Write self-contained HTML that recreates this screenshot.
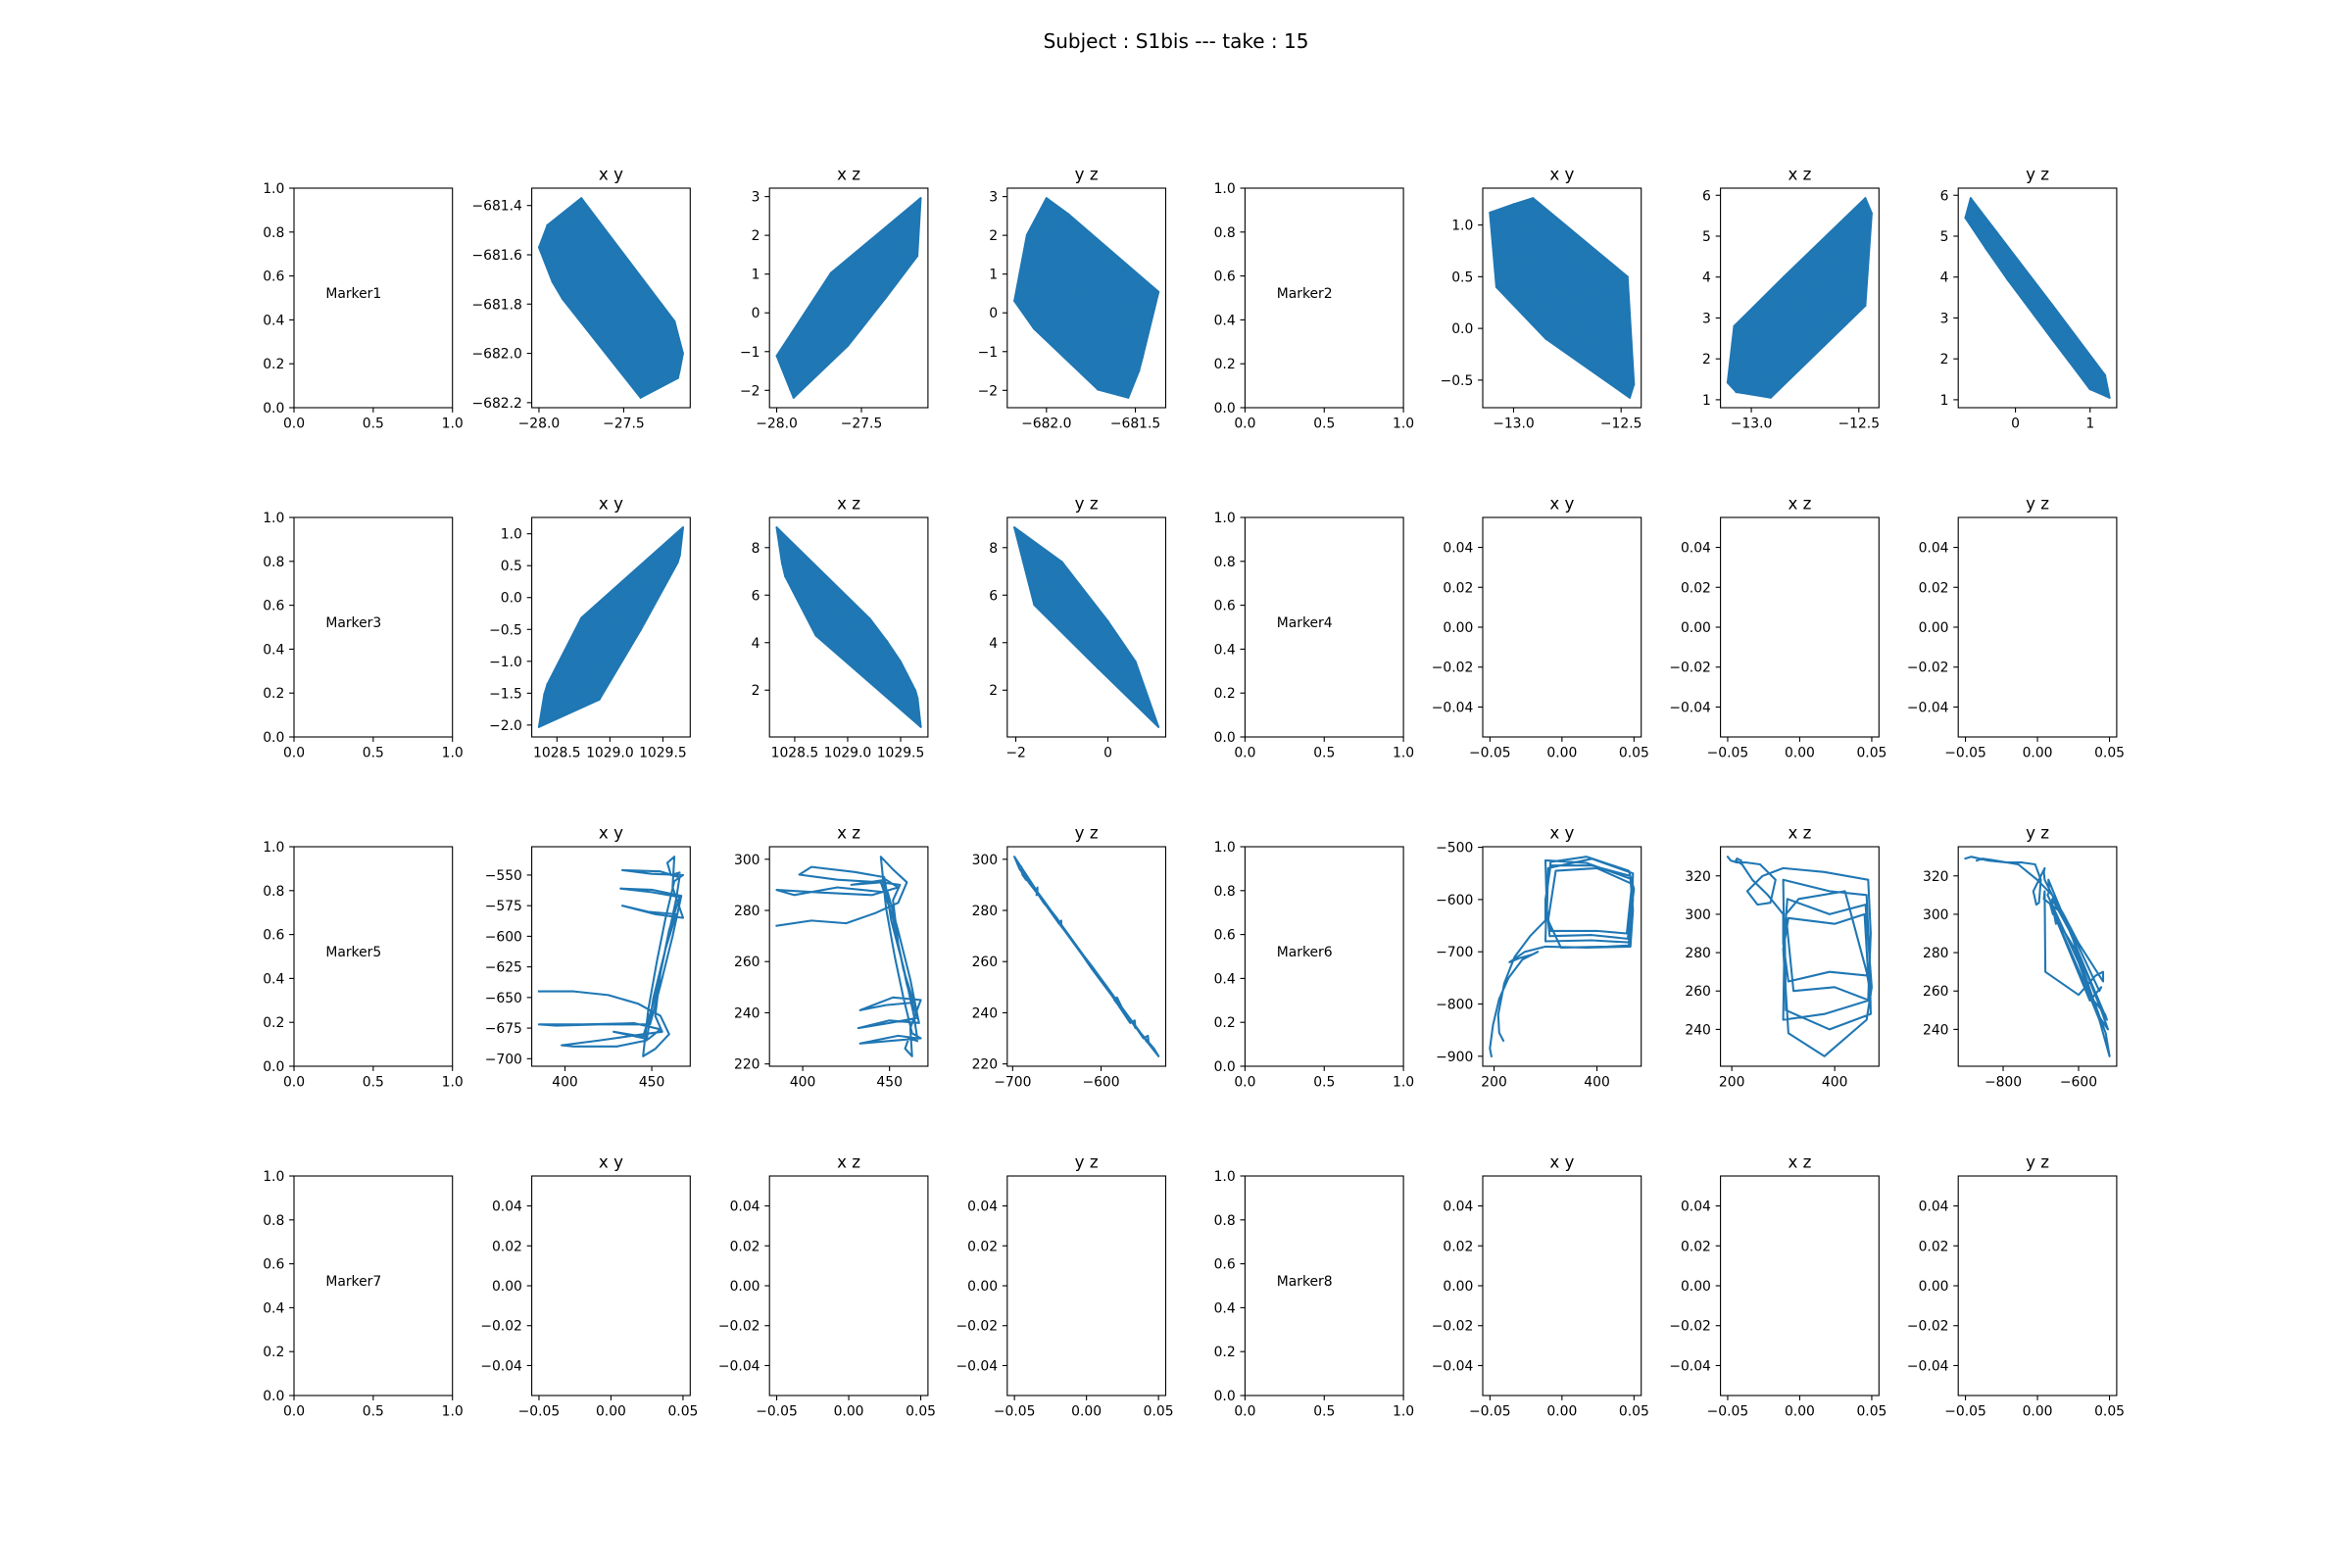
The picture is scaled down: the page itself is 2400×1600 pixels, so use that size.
<!DOCTYPE html>
<html><head><meta charset="utf-8"><title>Subject S1bis take 15</title>
<style>html,body{margin:0;padding:0;background:#fff}svg{display:block}text{font-family:"DejaVu Sans","Liberation Sans",sans-serif;fill:#000}</style>
</head><body>
<svg id="fig" xmlns="http://www.w3.org/2000/svg" width="2400" height="1600" viewBox="0 0 2400 1600">
<rect x="0" y="0" width="2400" height="1600" fill="#fff"/>
<text x="1200" y="49" text-anchor="middle" font-size="20">Subject : S1bis --- take : 15</text>
</svg>
<script>
// ---------- data ----------
const m1x = [-27.95,-27.30,-27.85,-27.20,-27.90,-27.40,-27.75,-27.15,-28.00,-27.35,-27.70,-27.25,-27.88,-27.45,-27.80,-27.18,-27.92,-27.38,-27.68,-27.28,-27.82,-27.50,-27.72,-27.22,-27.97,-27.33,-27.62,-27.26,-27.86,-27.42,-27.78,-27.17,-27.93,-27.36,-27.66,-27.30,-27.84,-27.48,-27.58,-27.24];
const m1y = [-681.48,-682.07,-681.73,-681.87,-681.54,-682.18,-681.37,-682.00,-681.57,-682.11,-681.46,-682.06,-681.48,-682.07,-681.48,-682.10,-681.71,-681.77,-681.53,-682.11,-681.57,-682.07,-681.84,-681.88,-681.52,-682.10,-681.54,-682.01,-681.78,-681.72,-681.43,-682.07,-681.59,-682.16,-681.56,-681.87,-681.70,-682.04,-681.58,-682.00];
const m1z = [-1.50,1.93,-0.18,1.45,-2.19,0.31,0.54,2.96,-1.11,1.92,-1.15,1.04,-0.81,1.80,-1.47,1.63,-1.98,0.89,1.03,2.01,-1.16,-0.41,0.36,2.56,-1.09,0.80,-0.82,1.99,-1.63,1.62,0.21,1.47,-1.72,0.37,0.51,2.23,-0.64,0.37,-0.85,2.18];

const m2x = [-13.07,-12.56,-12.99,-12.48,-13.03,-12.64,-12.91,-12.44,-13.11,-12.60,-12.87,-12.52,-13.01,-12.68,-12.95,-12.47,-13.05,-12.62,-12.86,-12.55,-12.97,-12.72,-12.89,-12.50,-13.08,-12.58,-12.81,-12.53,-13.00,-12.66,-12.94,-12.46,-13.05,-12.61,-12.84,-12.56,-12.98,-12.70,-12.78,-12.51,-13.08,-12.47,-12.85,-12.75,-13.00];
const m2y = [1.14,-0.40,0.74,-0.34,1.00,-0.36,1.26,-0.54,1.12,-0.36,0.79,-0.46,1.04,-0.18,0.92,-0.60,0.86,0.02,0.70,-0.46,0.86,-0.11,0.44,-0.32,1.13,-0.38,0.60,-0.39,0.71,0.13,0.94,-0.67,1.00,-0.40,0.64,-0.20,0.76,-0.10,0.50,-0.41,0.40,0.50,-0.10,0.75,1.20];
const m2z = [1.19,5.10,2.42,4.69,1.26,4.64,1.05,5.56,1.42,5.06,1.82,4.91,1.55,4.72,1.54,5.93,1.69,3.88,2.67,5.24,1.81,3.95,3.14,5.00,1.37,4.75,2.28,5.05,2.08,3.89,1.97,5.45,1.44,4.71,2.63,4.71,2.23,4.14,2.46,5.12,2.80,3.30,4.00,2.60,1.60];

const m3x = [1028.41,1029.45,1028.57,1029.61,1028.49,1029.29,1028.73,1029.69,1028.33,1029.37,1028.81,1029.53,1028.52,1029.21,1028.65,1029.64,1028.46,1029.32,1028.84,1029.48,1028.62,1029.13,1028.78,1029.58,1028.38,1029.40,1028.94,1029.51,1028.55,1029.26,1028.68,1029.66,1028.44,1029.35,1028.87,1029.45,1028.58,1029.16,1029.00,1029.54,1028.60,1029.30,1028.90,1029.50,1028.70,1029.10];
const m3y = [-1.36,0.11,-1.46,0.93,-1.29,-0.51,-0.32,1.10,-2.03,-0.16,-0.31,0.34,-1.07,-0.50,-0.75,0.55,-1.71,0.39,-0.35,0.13,-1.01,-0.71,-1.15,0.83,-1.52,-0.06,-0.13,0.41,-1.59,0.33,-0.57,0.66,-1.50,-0.31,-0.33,0.51,-1.35,-0.55,-0.05,0.51,-1.00,-0.20,-1.60,0.60,-0.80,0.00];
const m3z = [6.79,3.32,7.31,1.00,6.34,4.51,4.55,0.45,8.85,4.06,3.95,2.42,6.18,5.00,5.08,1.98,7.48,2.41,4.68,3.27,5.85,4.92,6.53,1.61,7.34,3.45,3.50,2.54,7.21,2.83,5.11,1.65,7.05,3.98,4.45,2.41,6.88,4.73,3.24,2.32,7.40,2.90,5.60,3.20,4.30,4.90];

const m5x = [385,405,425,442,455,460,452,445,448,453,458,463,468,450,433,455,466,464,458,451,447,430,405,398,420,445,456,452,455,460,466,450,432,450,467,462,455,449,420,395,385,410,440,455,448,428,445,452,458,464,448,433,452,468,462,463,459,461,466];
const m5y = [-645,-645,-648,-655,-665,-680,-692,-698,-660,-620,-585,-555,-550,-549,-546,-547,-552,-570,-610,-650,-685,-690,-690,-689,-685,-680,-678,-665,-630,-595,-568,-564,-561,-562,-567,-600,-640,-672,-672,-673,-672,-672,-671,-676,-684,-678,-682,-650,-610,-582,-580,-575,-582,-585,-560,-535,-540,-550,-548];
const m5z = [274,276,275,279,283,291,296,301,281,262,246,232,230,229,228,231,230,239,258,276,293,295,297,294,292,291,290,284,267,251,238,236,234,237,236,253,272,287,289,286,288,287,286,289,292,290,291,277,257,244,243,241,246,245,234,223,226,230,229];

const m6x = [195,192,198,210,228,255,285,275,250,230,260,300,380,465,470,465,380,300,302,300,390,462,468,470,390,305,303,308,390,460,472,462,380,310,300,310,400,458,468,400,320,305,330,420,462,470,465,390,310,300,300,270,240,220,208,210,218];
const m6y = [-900,-885,-840,-790,-750,-715,-700,-705,-712,-720,-700,-690,-692,-690,-620,-560,-530,-525,-600,-680,-678,-682,-600,-550,-522,-540,-620,-670,-668,-675,-580,-545,-518,-528,-610,-660,-660,-665,-570,-540,-545,-640,-692,-690,-688,-600,-555,-535,-535,-600,-640,-670,-710,-760,-820,-855,-870];
const m6z = [329,330,328,327,327,326,318,306,305,312,320,324,322,318,290,255,248,245,280,318,312,310,275,248,240,250,290,308,300,305,262,245,226,238,282,298,295,300,255,262,260,300,308,312,270,258,268,270,265,285,300,310,318,326,328,329,328];

// tick arrays
const m1TicksX = [-28.0,-27.5], m1TicksY = [-682.2,-682.0,-681.8,-681.6,-681.4], m1TicksZ = [-2,-1,0,1,2,3], m1TicksYH = [-682.0,-681.5];
const m2TicksX = [-13.0,-12.5], m2TicksY = [-0.5,0.0,0.5,1.0], m2TicksZ = [1,2,3,4,5,6], m2TicksYH = [0,1];
const m3TicksX = [1028.5,1029.0,1029.5], m3TicksY = [-2.0,-1.5,-1.0,-0.5,0.0,0.5,1.0], m3TicksZ = [2,4,6,8], m3TicksYH = [-2,0];
const m5TicksX = [400,450], m5TicksY = [-700,-675,-650,-625,-600,-575,-550], m5TicksZ = [220,240,260,280,300], m5TicksYH = [-700,-600];
const m6TicksX = [200,400], m6TicksY = [-900,-800,-700,-600,-500], m6TicksZ = [220,240,260,280,300,320], m6TicksYH = [-800,-600];
const emptyTicksX = [-0.05,0.00,0.05], emptyTicksY = [-0.04,-0.02,0.00,0.02,0.04];
const labelTicksX = [0.0,0.5,1.0], labelTicksY = [0.0,0.2,0.4,0.6,0.8,1.0];
const markerNames = ["Marker1","Marker2","Marker3","Marker4","Marker5","Marker6","Marker7","Marker8"];
const panelTitles = ["x y","x z","y z"];

// ---------- layout ----------
const NS = "http://www.w3.org/2000/svg";
const svg = document.getElementById('fig');
const AW = 161.7, AH = 224, C = "#1f77b4";
function colLeft(c){ return 300 + c * 242.6; }
function rowTop(r){ return 192 + r * 336; }
function mk(tag, attrs){ const e = document.createElementNS(NS, tag); for (const k in attrs) e.setAttribute(k, attrs[k]); return e; }
function fmt(v, dec){ const s = Math.abs(v) < 1e-12 ? (0).toFixed(dec) : v.toFixed(dec); return s.replace('-', '\u2212'); }
function decOf(arr){ let d = 0; arr.forEach(v => { const s = String(v); if (s.indexOf('.') >= 0) d = Math.max(d, s.split('.')[1].length); }); return d; }
function autoLim(arr){ let lo = Math.min(...arr), hi = Math.max(...arr); const m = (hi - lo) * 0.05; return [lo - m, hi + m]; }
function hull(pts){
  const p = pts.slice().sort((a,b)=>a[0]-b[0]||a[1]-b[1]);
  const cr = (o,a,b)=>(a[0]-o[0])*(b[1]-o[1])-(a[1]-o[1])*(b[0]-o[0]);
  const lo = [], up = [];
  for (const q of p){ while(lo.length>=2 && cr(lo[lo.length-2],lo[lo.length-1],q)<=0) lo.pop(); lo.push(q); }
  for (let i=p.length-1;i>=0;i--){ const q=p[i]; while(up.length>=2 && cr(up[up.length-2],up[up.length-1],q)<=0) up.pop(); up.push(q); }
  up.pop(); lo.pop(); return lo.concat(up);
}
let clipId = 0;

function drawAxes(r, c, cfg){
  const L = colLeft(c), T = rowTop(r);
  const g = mk('g', {});
  
  
  svg.appendChild(g);
  const [x0, x1] = cfg.xlim, [y0, y1] = cfg.ylim;
  const sx = v => L + (v - x0) / (x1 - x0) * AW;
  const sy = v => T + AH - (v - y0) / (y1 - y0) * AH;

  if (cfg.xs && cfg.xs.length){
    const id = 'clip' + (clipId++);
    const cp = mk('clipPath', {id: id});
    cp.appendChild(mk('rect', {x: L, y: T, width: AW, height: AH}));
    g.appendChild(cp);
    const pts = cfg.xs.map((v, i) => [sx(v), sy(cfg.ys[i])]);
    if (cfg.dense){
      const h = hull(pts);
      const poly = mk('polygon', {points: h.map(p => p[0].toFixed(1)+','+p[1].toFixed(1)).join(' '), fill: C, stroke: C, 'stroke-width': 2, 'stroke-linejoin': 'round', 'clip-path': 'url(#'+id+')'});
      
      
      g.appendChild(poly);
    }
    const pl = mk('polyline', {points: pts.map(p => p[0].toFixed(1)+','+p[1].toFixed(1)).join(' '), fill: 'none', stroke: C, 'stroke-width': 2.08, 'stroke-linejoin': 'round', 'stroke-linecap': 'square', 'clip-path': 'url(#'+id+')'});
    
    
    g.appendChild(pl);
  }
  const fr = mk('rect', {x: L, y: T, width: AW, height: AH, fill: 'none', stroke: '#000', 'stroke-width': 1.1});
  
  
  g.appendChild(fr);
  const dx = decOf(cfg.xticks);
  cfg.xticks.forEach(v => {
    if (v < x0 - 1e-9 || v > x1 + 1e-9) return;
    const X = sx(v);
    const t = mk('line', {x1: X, y1: T + AH, x2: X, y2: T + AH + 4.9, stroke: '#000', 'stroke-width': 1.1});
    
    
    g.appendChild(t);
    const tx = mk('text', {x: X, y: T + AH + 20.5, 'text-anchor': 'middle', 'font-size': 13.9});
    
    
    tx.textContent = fmt(v, dx);
    g.appendChild(tx);
  });
  const dy = decOf(cfg.yticks);
  cfg.yticks.forEach(v => {
    if (v < y0 - 1e-9 || v > y1 + 1e-9) return;
    const Y = sy(v);
    const t = mk('line', {x1: L - 4.9, y1: Y, x2: L, y2: Y, stroke: '#000', 'stroke-width': 1.1});
    
    
    g.appendChild(t);
    const tx = mk('text', {x: L - 9.7, y: Y + 5, 'text-anchor': 'end', 'font-size': 13.9});
    
    
    tx.textContent = fmt(v, dy);
    g.appendChild(tx);
  });
  if (cfg.title){
    const tt = mk('text', {x: L + AW / 2, y: T - 8.3, 'text-anchor': 'middle', 'font-size': 16.7});
    
    
    tt.textContent = cfg.title;
    g.appendChild(tt);
  }
  if (cfg.label){
    const lt = mk('text', {x: sx(0.2), y: sy(0.5), 'text-anchor': 'start', 'font-size': 13.9});
    
    
    lt.textContent = cfg.label;
    g.appendChild(lt);
  }
}

function labelPanel(r, c, idx){
  drawAxes(r, c, {name: 'marker' + (idx + 1) + '-label-panel', xlim: [0, 1], ylim: [0, 1], xticks: labelTicksX, yticks: labelTicksY, label: markerNames[idx]});
}
function markerPanels(r, c0, m, dense){
  const pairs = [[m.x, m.y, m.tx, m.ty], [m.x, m.z, m.tx, m.tz], [m.y, m.z, m.tyh, m.tz]];
  pairs.forEach((p, k) => {
    const nm = m.name + '-' + panelTitles[k].replace(' ', '') + '-plot';
    if (p[0] && p[0].length){
      drawAxes(r, c0 + k, {name: nm, xs: p[0], ys: p[1], xlim: autoLim(p[0]), ylim: autoLim(p[1]), xticks: p[2], yticks: p[3], title: panelTitles[k], dense: dense});
    } else {
      drawAxes(r, c0 + k, {name: nm, xlim: [-0.055, 0.055], ylim: [-0.055, 0.055], xticks: emptyTicksX, yticks: emptyTicksY, title: panelTitles[k]});
    }
  });
}

const M1 = {name: 'marker1', x: m1x, y: m1y, z: m1z, tx: m1TicksX, ty: m1TicksY, tz: m1TicksZ, tyh: m1TicksYH};
const M2 = {name: 'marker2', x: m2x, y: m2y, z: m2z, tx: m2TicksX, ty: m2TicksY, tz: m2TicksZ, tyh: m2TicksYH};
const M3 = {name: 'marker3', x: m3x, y: m3y, z: m3z, tx: m3TicksX, ty: m3TicksY, tz: m3TicksZ, tyh: m3TicksYH};
const M5 = {name: 'marker5', x: m5x, y: m5y, z: m5z, tx: m5TicksX, ty: m5TicksY, tz: m5TicksZ, tyh: m5TicksYH};
const M6 = {name: 'marker6', x: m6x, y: m6y, z: m6z, tx: m6TicksX, ty: m6TicksY, tz: m6TicksZ, tyh: m6TicksYH};
const EMPTY = n => ({name: n, x: [], y: [], z: []});

labelPanel(0, 0, 0); markerPanels(0, 1, M1, true);
labelPanel(0, 4, 1); markerPanels(0, 5, M2, true);
labelPanel(1, 0, 2); markerPanels(1, 1, M3, true);
labelPanel(1, 4, 3); markerPanels(1, 5, EMPTY('marker4'), false);
labelPanel(2, 0, 4); markerPanels(2, 1, M5, false);
labelPanel(2, 4, 5); markerPanels(2, 5, M6, false);
labelPanel(3, 0, 6); markerPanels(3, 1, EMPTY('marker7'), false);
labelPanel(3, 4, 7); markerPanels(3, 5, EMPTY('marker8'), false);
</script>
</body></html>
